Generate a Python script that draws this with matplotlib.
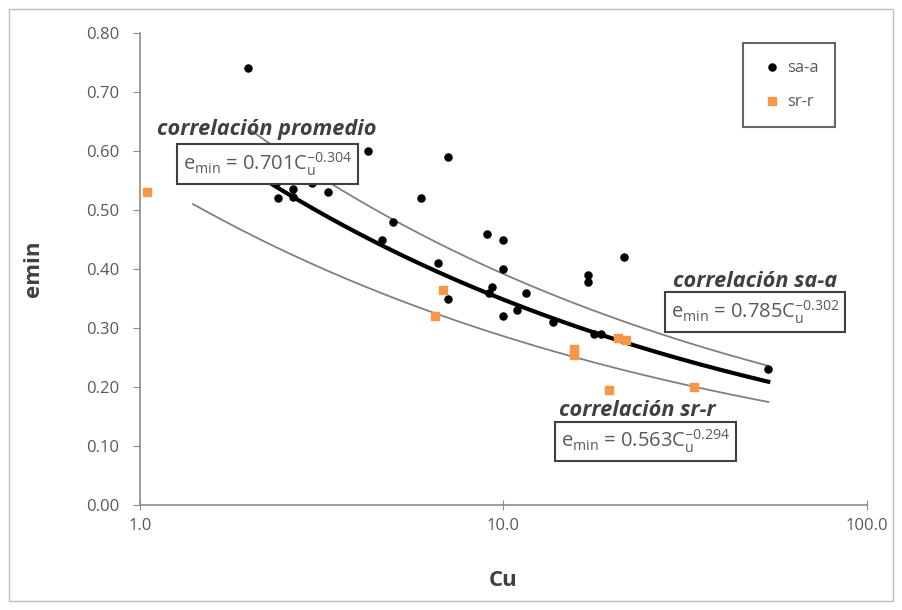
import numpy as np
import matplotlib
matplotlib.use("Agg")
import matplotlib.pyplot as plt
from matplotlib.patches import Rectangle

plt.rcParams['font.family'] = ['Open Sans', 'DejaVu Sans']
plt.rcParams['mathtext.default'] = 'regular'

# sa-a data (black dots)
cu_saa = [1.98, 2.38, 2.40, 2.64, 2.64, 2.97, 3.29, 4.25, 4.64, 4.98, 5.94, 6.62,
          7.05, 7.05, 9.0, 9.1, 9.3, 9.95, 9.95, 9.95, 10.9, 11.5, 13.7, 17.1, 17.1,
          17.7, 18.5, 21.5, 53.5]
e_saa = [0.74, 0.547, 0.52, 0.536, 0.522, 0.546, 0.53, 0.60, 0.45, 0.48, 0.52, 0.41,
         0.59, 0.35, 0.46, 0.36, 0.37, 0.45, 0.40, 0.32, 0.33, 0.36, 0.31, 0.39, 0.378,
         0.29, 0.29, 0.42, 0.23]

# sr-r data (orange squares)
cu_srr = [1.045, 6.5, 6.8, 15.6, 15.6, 19.5, 20.7, 21.7, 33.4]
e_srr = [0.53, 0.32, 0.365, 0.265, 0.255, 0.195, 0.283, 0.28, 0.20]

# power-law correlations e = a * Cu^b
a_prom, b_prom = 0.701, -0.304
a_saa, b_saa = 0.785, -0.302
a_srr, b_srr = 0.563, -0.294

fig = plt.figure(figsize=(9.02, 6.10), dpi=100)
ax = fig.add_axes([0.1552, 0.172, 0.806, 0.774])

cu_a = np.logspace(np.log10(2.0), np.log10(53.5), 200)
cu_r = np.logspace(np.log10(1.4), np.log10(53.5), 200)
ax.plot(cu_a, a_saa * cu_a ** b_saa, color='#808080', lw=1.3, zorder=2)
ax.plot(cu_r, a_srr * cu_r ** b_srr, color='#808080', lw=1.3, zorder=2)
ax.plot(cu_a, a_prom * cu_a ** b_prom, color='black', lw=3.0, zorder=3)

s1 = ax.scatter(cu_saa, e_saa, s=26, color='black', marker='o', zorder=4, label='sa-a')
s2 = ax.scatter(cu_srr, e_srr, s=40, color='#F79646', marker='s', zorder=4, label='sr-r')

ax.set_xscale('log')
ax.set_xlim(1, 100)
ax.set_ylim(0, 0.8)
ax.set_xticks([1, 10, 100])
ax.set_xticklabels(['1.0', '10.0', '100.0'])
ax.xaxis.set_minor_locator(matplotlib.ticker.NullLocator())
ax.set_yticks(np.arange(0, 0.81, 0.1))
ax.set_yticklabels([f'{v:.2f}' for v in np.arange(0, 0.81, 0.1)])

for s in ['top', 'right']:
    ax.spines[s].set_visible(False)
for s in ['left', 'bottom']:
    ax.spines[s].set_color('#8c8c8c')
    ax.spines[s].set_linewidth(1.2)
ax.tick_params(axis='y', direction='out', length=5, color='#8c8c8c', labelsize=12,
               labelcolor='#595959', pad=10)
ax.tick_params(axis='x', direction='inout', length=7, color='#8c8c8c', labelsize=12,
               labelcolor='#595959', pad=6)

ax.set_xlabel('Cu', fontsize=16, fontweight='bold', color='#404040', labelpad=26)
ax.set_ylabel('emin', fontsize=16, fontweight='bold', color='#404040', labelpad=30)

ann_col = '#404040'
eq_col = '#595959'
box = dict(boxstyle='square,pad=0.3', fc='white', ec='#404040', lw=1.5)

ax.text(1.114, 0.636, 'correlación promedio', fontsize=15.7, fontweight='bold', style='italic',
        color=ann_col, ha='left', va='center', zorder=6)
ax.text(2.237, 0.578, r'$e_{min}$ = 0.701C$_u^{-0.304}$', fontsize=14.5, color=eq_col,
        ha='center', va='center', bbox=box, zorder=6)

ax.text(49.2, 0.378, 'correlación sa-a', fontsize=15.7, fontweight='bold', style='italic',
        color=ann_col, ha='center', va='center', zorder=6)
ax.text(49.2, 0.327, r'$e_{min}$ = 0.785C$_u^{-0.302}$', fontsize=14.5, color=eq_col,
        ha='center', va='center', bbox=box, zorder=6)

ax.text(23.4, 0.161, 'correlación sr-r', fontsize=15.7, fontweight='bold', style='italic',
        color=ann_col, ha='center', va='center', zorder=6)
ax.text(24.6, 0.108, r'$e_{min}$ = 0.563C$_u^{-0.294}$', fontsize=14.5, color=eq_col,
        ha='center', va='center', bbox=box, zorder=6)

leg = ax.legend(handles=[s1, s2], loc='upper right', bbox_to_anchor=(0.956, 0.979),
                fontsize=12, frameon=True, fancybox=False, borderpad=1.0,
                labelspacing=1.1, handletextpad=0.2, handlelength=1.4, borderaxespad=0)
leg.get_frame().set_edgecolor('#404040')
leg.get_frame().set_linewidth(1.5)
for t in leg.get_texts():
    t.set_color('#595959')

fig.patches.append(Rectangle((9 / 902, 9 / 610), 884 / 902, 592 / 610, transform=fig.transFigure,
                             fill=False, ec='#c0c0c0', lw=1.0))

fig.savefig('out.png', dpi=100)
